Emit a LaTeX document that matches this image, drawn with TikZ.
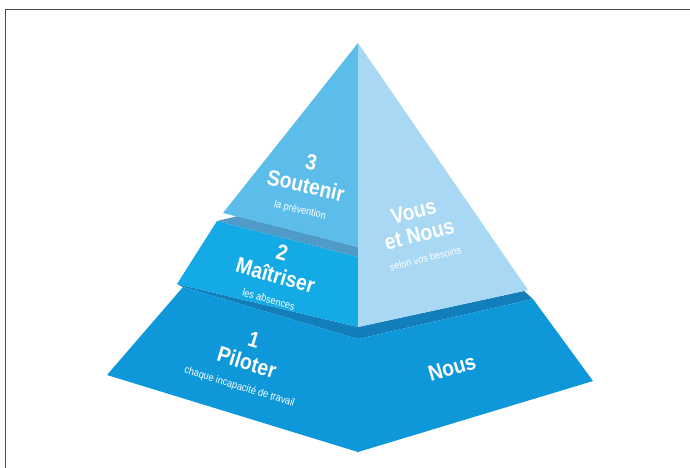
\documentclass[tikz,border=0pt]{standalone}
\usepackage{fontspec}
\setmainfont[FakeStretch=0.88]{Liberation Sans}

\definecolor{lvlthree}{HTML}{5DBDEA}
\definecolor{vousnous}{HTML}{A8D8F3}
\definecolor{lvltwo}{HTML}{14AAE6}
\definecolor{bandtwo}{HTML}{4F9AC6}
\definecolor{bandone}{HTML}{137FBA}
\definecolor{lvlone}{HTML}{0E98D9}
\definecolor{framegray}{HTML}{4D4D4D}

\newcommand{\subline}[1]{{\mdseries\fontsize{10.5}{11}\selectfont #1}}

\tikzset{
  face/.style={fill=#1,draw=none},
  tierlabel/.style={text=white,inner sep=0pt,align=center,
    font=\bfseries\fontsize{22}{23}\selectfont}
}

\begin{document}
\begin{tikzpicture}[x=1pt,y=-1pt]
  \useasboundingbox (0,0) rectangle (690,468);

  % --- Frame (top and left edge only) ---
  \draw[framegray,line width=1.5pt] (690,9.5) -| (5.5,468);

  % --- Corners of the pyramid ---
  \coordinate (apex) at (358,43);
  \coordinate (l3) at (223,213);
  \coordinate (c3) at (358,247);
  \coordinate (l2n) at (238,216);
  \coordinate (l2t) at (217,221);
  \coordinate (c2t) at (358,257);
  \coordinate (c2b) at (358,327);
  \coordinate (l2b) at (177,284);
  \coordinate (r2) at (528,290);
  \coordinate (l1t) at (183,287);
  \coordinate (c1t) at (358,339);
  \coordinate (r1b) at (524,291);
  \coordinate (r1t) at (533,299);
  \coordinate (l1b) at (107,375);
  \coordinate (r1) at (593,381);
  \coordinate (c1b) at (358,452);

  % --- Level 1 ---
  \fill[face=bandone] (l2b) -- (c2b) -- (c1t) -- (l1t) -- cycle;
  \fill[face=bandone] (c2b) -- (r1b) -- (r1t) -- (c1t) -- cycle;
  \fill[face=lvlone] (l1t) -- (c1t) -- (c1b) -- (l1b) -- cycle;
  \fill[face=lvlone] (c1t) -- (r1t) -- (r1) -- (c1b) -- cycle;

  % --- Level 2 ---
  \fill[face=bandtwo] (l2t) -- (l2n) -- (c3) -- (c2t) -- cycle;
  \fill[face=lvltwo] (l2t) -- (c2t) -- (c2b) -- (l2b) -- cycle;

  % --- Level 3 and right face ---
  \fill[face=lvlthree] (apex) -- (l3) -- (c3) -- cycle;
  \fill[face=vousnous] (apex) -- (r2) -- (c2b) -- (c3) -- cycle;

  % --- Labels ---
  \node[tierlabel,rotate=-13] (soutenir) at (306,185)
    {3\\[1pt]Soutenir\\[-2pt]\subline{la prévention}};
  \node[tierlabel,rotate=-16] (maitriser) at (276,274)
    {2\\[1pt]Maîtriser\\[-2pt]\subline{les absences}};
  \node[tierlabel,rotate=-17] (piloter) at (247,362)
    {1\\[1pt]Piloter\\[-2pt]\subline{chaque incapacité de travail}};
  \node[tierlabel,rotate=14] (vousnous) at (419,233)
    {Vous\\[1pt]et Nous\\[-2pt]\subline{selon vos besoins}};
  \node[tierlabel,rotate=16] (nous) at (452,368) {Nous};
\end{tikzpicture}
\end{document}
